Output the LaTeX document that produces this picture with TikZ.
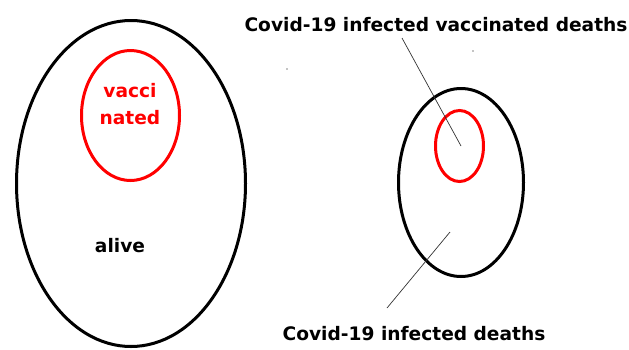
\documentclass[tikz,border=0pt]{standalone}
\usepackage{fontspec}
\setmainfont{DejaVu Sans}
\usetikzlibrary{shapes.geometric}
\tikzset{
    ring/.style={draw,ellipse,line width=3pt,inner sep=0pt},
    tag/.style={font=\bfseries\fontsize{18.6}{27}\selectfont,inner sep=0pt,anchor=base},
    leader/.style={draw=black!80,line width=0.7pt}
}
\begin{document}
\begin{tikzpicture}[x=1pt,y=-1pt]
    \useasboundingbox (0,0) rectangle (629,349);
    \node[ring,minimum width=229pt,minimum height=326pt] (alive) at (131,183.5) {};
    \node[ring,red,minimum width=98pt,minimum height=130pt] (vacc) at (130.5,115.5) {};
    \node[ring,minimum width=125pt,minimum height=188pt] (deaths) at (461,182.5) {};
    \node[ring,red,minimum width=48pt,minimum height=71pt] (vdeaths) at (459.5,146) {};

    \node[tag,red,align=center] (vacctext) at (130,124.3) {vacci\\nated};
    \node[tag] (alivetext) at (120,252) {alive};
    \node[tag] (vdtext) at (436,31.7) {Covid-19 infected vaccinated deaths};
    \node[tag] (dtext) at (414,340) {Covid-19 infected deaths};

    \coordinate (vdfoot) at (402,38);
    \coordinate (vdtip) at (461,146);
    \coordinate (dfoot) at (387,308);
    \coordinate (dtip) at (450,232);
    \draw[leader] (vdfoot) -- (vdtip);
    \draw[leader] (dfoot) -- (dtip);
    \fill (287,69) circle (0.7pt);
    \fill (473,51) circle (0.7pt);
\end{tikzpicture}
\end{document}
